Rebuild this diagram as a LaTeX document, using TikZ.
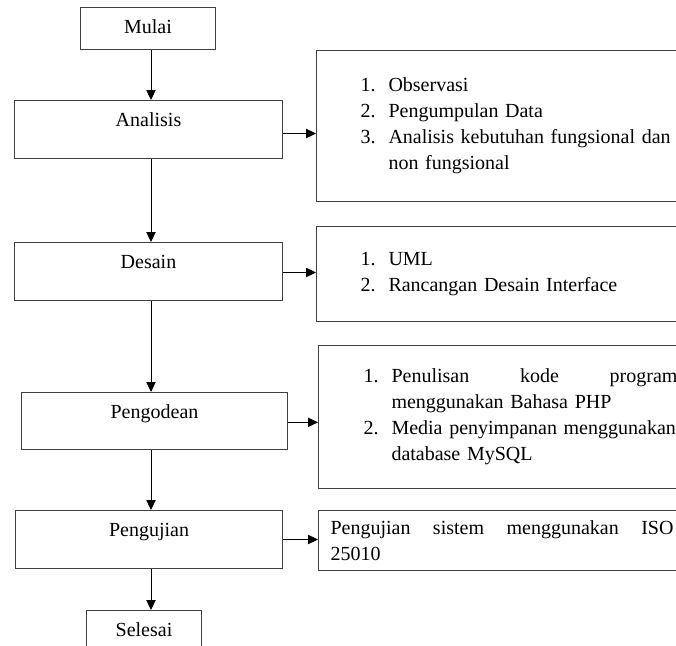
\documentclass[tikz,border=0pt]{standalone}
\usepackage{fontspec}
\setmainfont{Liberation Serif}
\usetikzlibrary{arrows.meta}
\usetikzlibrary{positioning}
\tikzset{arr/.style = {-{Triangle[length = 7.5pt, width = 7pt]}, line width = 0.75pt}}
\tikzset{stage/.style = {draw = black!75, line width = 0.75pt, inner sep = 0,
                         anchor = north west, text height = 19.5pt}}
\tikzset{note/.style = {draw = black!75, line width = 0.75pt, inner ysep = 0,
                        anchor = north west, text width = 330pt}}
\newcommand{\nitem}[2]{\makebox[21pt][l]{#1}#2}
\newcommand{\ncont}{\hspace*{21pt}}

\begin{document}
\begin{tikzpicture}[x = 0.75pt, y = -0.75pt, font = \fontsize{15pt}{19.5pt}\selectfont]
    \useasboundingbox (0, 0) rectangle (676, 646);
    \clip (0, 0) rectangle (676, 646);

    \node [stage, minimum width = 101.25pt, text depth = 12pt] (mulai) at (80, 7) {Mulai};
    \node [stage, minimum width = 201pt, text depth = 24pt] (analisis) at (14, 100) {Analisis};
    \node [stage, minimum width = 201pt, text depth = 24pt] (desain) at (14, 242) {Desain};
    \node [stage, minimum width = 199.5pt, text depth = 23.25pt] (pengodean) at (21, 392) {Pengodean};
    \node [stage, minimum width = 200.25pt, text depth = 24pt] (pengujian) at (15, 510) {Pengujian};
    \node [stage, minimum width = 86.25pt, text depth = 14.25pt] (selesai) at (86, 610) {Selesai};

    \node [note, inner xsep = 33pt, minimum height = 113.25pt] (obs) at (316, 50)
        {\nitem{1.}{Observasi}\\
         \nitem{2.}{Pengumpulan Data}\\
         \nitem{3.}{Analisis kebutuhan fungsional dan}\\
         \ncont non fungsional};
    \node [note, inner xsep = 33pt, minimum height = 71.25pt] (uml) at (316, 226)
        {\nitem{1.}{UML}\\
         \nitem{2.}{Rancangan Desain Interface}};
    \node [note, inner xsep = 33.75pt, minimum height = 107.25pt] (kode) at (318, 345)
        {\nitem{1.}{\makebox[214.5pt][l]{Penulisan\hfill kode\hfill program}}\\
         \ncont menggunakan Bahasa PHP\\
         \nitem{2.}{\makebox[214.5pt][l]{Media penyimpanan menggunakan}}\\
         \ncont database MySQL};
    \node [note, inner xsep = 9pt, minimum height = 45pt] (iso) at (318, 510)
        {\makebox[257.25pt][l]{Pengujian\hfill sistem\hfill menggunakan\hfill ISO}\\
         25010};

    \coordinate (axis) at (151, 0);
    \draw [arr] (mulai.south -| axis) -- (analisis.north -| axis);
    \draw [arr] (analisis.south -| axis) -- (desain.north -| axis);
    \draw [arr] (desain.south -| axis) -- (pengodean.north -| axis);
    \draw [arr] (pengodean.south -| axis) -- (pengujian.north -| axis);
    \draw [arr] (pengujian.south -| axis) -- (selesai.north -| axis);

    \draw [arr] ([yshift = -3pt]analisis.east) -- ([yshift = -3pt]analisis.east -| obs.west);
    \draw [arr] ([yshift = -0.75pt]desain.east) -- ([yshift = -0.75pt]desain.east -| uml.west);
    \draw [arr] ([yshift = -1pt]pengodean.east) -- ([yshift = -1pt]pengodean.east -| kode.west);
    \draw [arr] (pengujian.east) -- (pengujian.east -| iso.west);
\end{tikzpicture}
\end{document}
